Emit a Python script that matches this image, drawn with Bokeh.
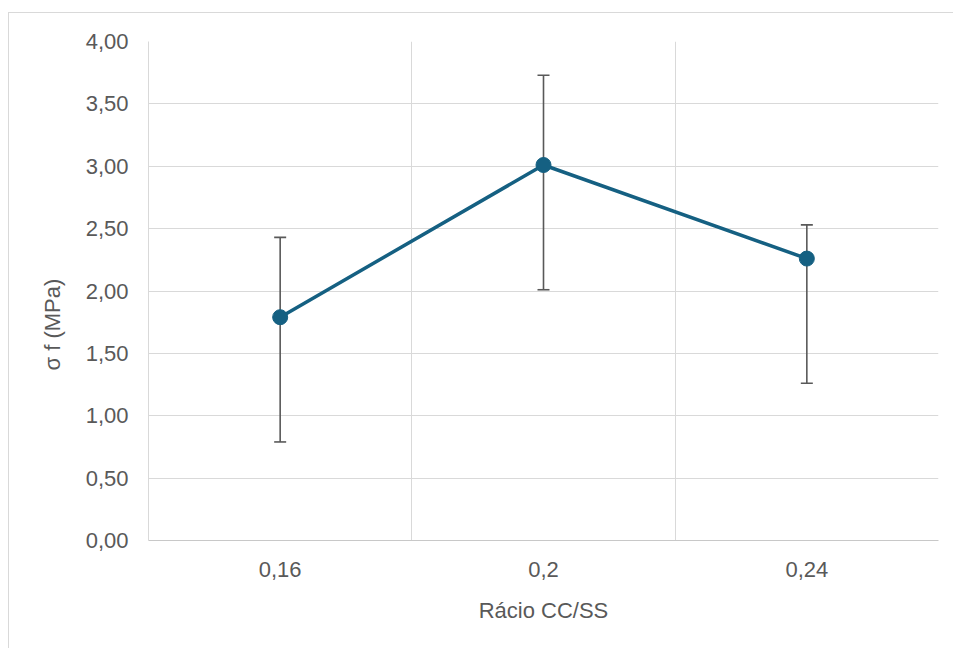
from bokeh.plotting import figure
from bokeh.models import FixedTicker, Whisker, ColumnDataSource, Range1d, TeeHead
from bokeh.embed import file_html
from bokeh.resources import INLINE

# ---- data ----
categories = ["0,16", "0,2", "0,24"]
sigma_f = [1.79, 3.01, 2.26]
err_lower = [0.79, 2.01, 1.26]
err_upper = [2.43, 3.73, 2.53]
y_ticks = [0.0, 0.5, 1.0, 1.5, 2.0, 2.5, 3.0, 3.5, 4.0]
y_tick_labels = ["0,00", "0,50", "1,00", "1,50", "2,00", "2,50", "3,00", "3,50", "4,00"]
x_title = "Rácio CC/SS"
y_title = "σ f (MPa)"

FONT = "Liberation Sans"
TXT = "#595959"
GRID = "#d9d9d9"
LINE = "#156082"

xpos = [i + 0.5 for i in range(len(categories))]
src = ColumnDataSource(dict(x=xpos, y=sigma_f, lo=err_lower, hi=err_upper))

p = figure(width=945, height=636, output_backend="svg", toolbar_location=None,
           x_range=Range1d(0, len(categories)), y_range=Range1d(0, 4),
           min_border_left=139, min_border_right=16, min_border_top=28, min_border_bottom=109)
p.styles = {"border-top": "1px solid #d9d9d9", "border-left": "1px solid #d9d9d9",
            "margin-top": "12px", "margin-left": "8px"}
p.outline_line_color = None
p.background_fill_color = "white"
p.border_fill_color = "white"

# grids
p.xgrid.ticker = FixedTicker(ticks=list(range(len(categories) + 1)))
p.ygrid.ticker = FixedTicker(ticks=y_ticks)
p.xgrid.grid_line_color = GRID
p.ygrid.grid_line_color = GRID
p.xgrid.grid_line_width = 1
p.ygrid.grid_line_width = 1

# axes
p.xaxis.ticker = FixedTicker(ticks=xpos)
p.xaxis.major_label_overrides = {x: c for x, c in zip(xpos, categories)}
p.yaxis.ticker = FixedTicker(ticks=y_ticks)
p.yaxis.major_label_overrides = {t: l for t, l in zip(y_ticks, y_tick_labels)}
for ax in (p.xaxis[0], p.yaxis[0]):
    ax.major_tick_line_color = None
    ax.minor_tick_line_color = None
    ax.major_tick_out = 0
    ax.major_tick_in = 0
    ax.minor_tick_out = 0
    ax.major_label_text_font = FONT
    ax.major_label_text_font_size = "22px"
    ax.major_label_text_color = TXT
    ax.axis_label_text_font = FONT
    ax.axis_label_text_font_size = "22px"
    ax.axis_label_text_color = TXT
    ax.axis_label_text_font_style = "normal"
    ax.axis_line_color = "#c8c8c8"
    ax.axis_line_width = 1
p.yaxis.axis_line_color = GRID
p.xaxis.major_label_standoff = 21
p.yaxis.major_label_standoff = 20
p.xaxis.axis_label = x_title
p.xaxis.axis_label_standoff = 18
p.yaxis.axis_label = y_title + "\u00a0" * 11
p.yaxis.axis_label_standoff = 18

# error bars
wh = Whisker(source=src, base="x", lower="lo", upper="hi", line_color="#595959", line_width=1.6,
             upper_head=TeeHead(size=12, line_color="#595959", line_width=1.6),
             lower_head=TeeHead(size=12, line_color="#595959", line_width=1.6))
p.add_layout(wh)

# series
p.line("x", "y", source=src, line_color=LINE, line_width=3.5)
p.scatter("x", "y", source=src, size=15, fill_color=LINE, line_color=LINE)

open("out.html", "w").write(file_html(p, INLINE))
